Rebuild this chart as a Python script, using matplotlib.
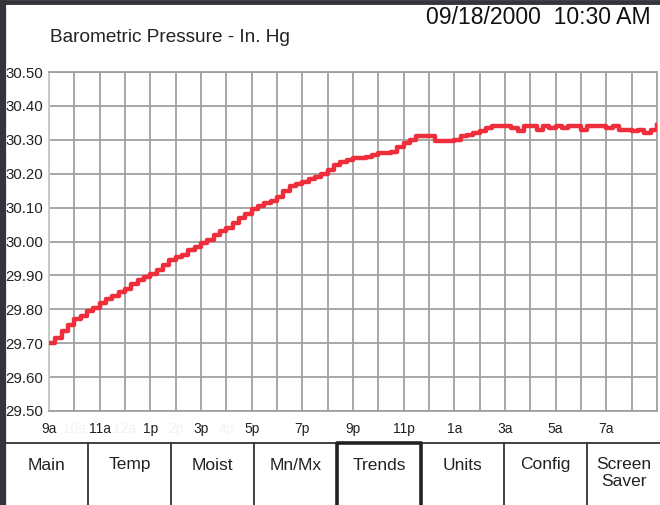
import matplotlib
matplotlib.use("Agg")
from matplotlib import pyplot as plt

plt.rcParams['font.family'] = ['Liberation Sans', 'DejaVu Sans']

# Chart data
title = "Barometric Pressure - In. Hg"
stamp = "09/18/2000  10:30 AM"
hours = [i * 0.25 for i in range(97)]
pressure = [29.700, 29.715, 29.735, 29.755, 29.770, 29.780, 29.795, 29.805,
            29.820, 29.830, 29.840, 29.850, 29.860, 29.875, 29.885, 29.895,
            29.905, 29.915, 29.930, 29.945, 29.955, 29.960, 29.975, 29.985,
            29.995, 30.005, 30.020, 30.030, 30.040, 30.055, 30.070, 30.080,
            30.095, 30.105, 30.115, 30.120, 30.130, 30.150, 30.165, 30.170,
            30.175, 30.185, 30.190, 30.200, 30.210, 30.225, 30.235, 30.240,
            30.245, 30.245, 30.250, 30.255, 30.260, 30.260, 30.265, 30.280,
            30.290, 30.300, 30.310, 30.310, 30.310, 30.295, 30.295, 30.295,
            30.300, 30.310, 30.315, 30.320, 30.325, 30.335, 30.340, 30.340,
            30.340, 30.335, 30.325, 30.340, 30.340, 30.330, 30.340, 30.335,
            30.340, 30.335, 30.340, 30.340, 30.330, 30.340, 30.340, 30.340,
            30.335, 30.340, 30.330, 30.330, 30.325, 30.330, 30.320, 30.330,
            30.345]
y_ticks = [29.5, 29.6, 29.7, 29.8, 29.9, 30.0, 30.1, 30.2, 30.3, 30.4, 30.5]
x_major = [0, 2, 4, 6, 8, 10, 12, 14, 16, 18, 20, 22]
x_major_labels = ['9a', '11a', '1p', '3p', '5p', '7p', '9p', '11p', '1a', '3a', '5a', '7a']
x_minor = [1, 3, 5, 7, 9, 11, 13, 15, 17, 19, 21, 23]
x_minor_labels = ['10a', '12a', '2p', '4p', '', '', '', '', '', '', '', '']
buttons = ['Main', 'Temp', 'Moist', 'Mn/Mx', 'Trends', 'Units', 'Config', 'Screen\nSaver']
edges = [5, 88, 171, 254, 337, 421, 504, 587, 660]

W, H = 660, 505
fig = plt.figure(figsize=(W / 100, H / 100), dpi=100)
ax = fig.add_axes([49 / W, 1 - 411 / H, (657 - 49) / W, (411 - 72) / H])

ax.plot(hours, pressure, drawstyle='steps-post', color='#ee2e3a', lw=3.2, zorder=3)
ax.set_xlim(0, 24)
ax.set_ylim(29.5, 30.5)
ax.set_yticks(y_ticks)
ax.set_yticklabels(['%.2f' % v for v in y_ticks], fontsize=10.8, color='#222222')
ax.set_xticks(x_major)
ax.set_xticklabels(x_major_labels, fontsize=10, color='#222222')
ax.set_xticks(x_minor, minor=True)
ax.set_xticklabels(x_minor_labels, minor=True, fontsize=10, color='#f0f3f7')
ax.tick_params(axis='both', which='both', length=0)
ax.tick_params(axis='y', pad=4)
ax.tick_params(axis='x', which='both', pad=8)
ax.grid(True, which='both', color='#a0a0a0', lw=1.3)
ax.set_axisbelow(True)
for s in ['top', 'right', 'bottom']:
    ax.spines[s].set_color('#a0a0a0')
    ax.spines[s].set_linewidth(1.3)
ax.spines['left'].set_color('#c8c8c8')
ax.spines['left'].set_linewidth(1.3)

# overlay in pixel coordinates for frame, header and buttons
ov = fig.add_axes([0, 0, 1, 1], zorder=5)
ov.set_xlim(0, W)
ov.set_ylim(H, 0)
ov.axis('off')

ov.plot([2.5, 2.5], [0, H], color='#34343c', lw=4.5, solid_capstyle='butt')
ov.plot([0, W], [1.5, 1.5], color='#34343c', lw=3.5, solid_capstyle='butt')
ov.text(50, 38, title, fontsize=13.7, va='center', ha='left', color='#222222')
ov.text(651, 18, stamp, fontsize=16.6, va='center', ha='right', color='#111111')

ov.plot([5, W], [443, 443], color='#333333', lw=1.3)
for x in edges[1:-1]:
    ov.plot([x, x], [443, H], color='#333333', lw=1.3)
for i, name in enumerate(buttons):
    cx = (edges[i] + edges[i + 1]) / 2
    ov.text(cx, 473 if '\n' in name else 465, name, fontsize=12.5, ha='center',
            va='center', color='#222222', linespacing=1.1)
# selected button
sel = buttons.index('Trends')
x0, x1 = edges[sel], edges[sel + 1]
ov.plot([x0, x0, x1, x1], [H, 443, 443, H], color='#222222', lw=2.6)

fig.savefig('out.png', dpi=100)
